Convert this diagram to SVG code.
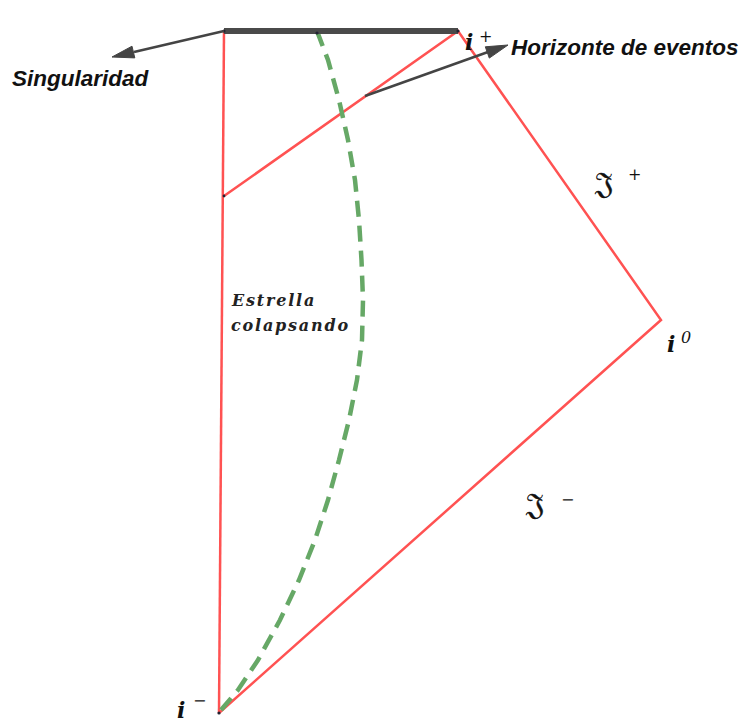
<svg xmlns="http://www.w3.org/2000/svg" width="740" height="724" viewBox="0 0 740 724">
<style>
.red{fill:none;stroke:#ff5252;stroke-width:2.5;stroke-linejoin:miter}
.star{fill:none;stroke:#66a866;stroke-width:4.5;stroke-dasharray:16 9}
.arr{fill:none;stroke:#444;stroke-width:2.5}
.head{fill:#444;stroke:#444;stroke-width:1;stroke-linejoin:round}
.lbl{font-family:"Liberation Sans",Arial,sans-serif;font-weight:bold;font-style:italic;font-size:22.5px;fill:#111}
.math{font-family:"DejaVu Serif","Liberation Serif",serif;font-weight:bold;font-style:italic;font-size:22px;fill:#111}
.sup{font-family:"DejaVu Serif","Liberation Serif",serif;font-style:italic;font-size:16px;fill:#111}
.frak{font-family:"DejaVu Serif","DejaVu Sans","Noto Sans",serif;font-size:30px;fill:#111;stroke:#111;stroke-width:0.4}
.star-t{font-family:"DejaVu Serif","Liberation Serif",serif;font-style:italic;font-weight:bold;font-size:16px;letter-spacing:1.8px;fill:#222}
.dot{fill:#223}
</style>
<g id="diagram">
<path class="red" d="M224,31 L219,713"/>
<path class="red" d="M224,196 L458,31 L661,320 L219,713"/>
<path class="star" d="M317,31 L328,60 L339,100 L348,140 L355,180 L359,220 L361.5,260 L363,300 L362,340 L357,380 L349,420 L339,460 L328,500 L315,540 L299,580 L280,620 L258,660 L238,690 L221,710"/>
<line x1="224" y1="31" x2="458" y2="31" stroke="#4a4a4a" stroke-width="6"/>
<circle class="dot" cx="224" cy="31" r="1.6"/>
<circle class="dot" cx="458" cy="31" r="1.6"/>
<circle class="dot" cx="317" cy="33" r="1.6"/>
<circle class="dot" cx="224" cy="196" r="1.4"/>
<circle class="dot" cx="219" cy="713" r="1.6"/>
</g>
<g id="connectors">
<line class="arr" x1="224" y1="31" x2="134" y2="52"/>
<polygon class="head" points="112,57 134.8,57.9 132,46.2"/>
<line class="arr" x1="365" y1="96" x2="488" y2="52"/>
<polygon class="head" points="508,45 489.3,58.1 485.3,46.8"/>
</g>
<g id="labels">
<text class="lbl" x="12" y="86">Singularidad</text>
<text class="lbl" x="511" y="55">Horizonte de eventos</text>
<text class="math" x="465" y="50">i</text><text class="sup" x="479" y="42">+</text>
<text class="math" x="667" y="352">i</text><text class="sup" x="681" y="343">0</text>
<text class="math" x="177" y="718">i</text><text class="sup" x="193" y="706">−</text>
<text class="frak" x="595" y="193">𝔍</text><text class="sup" x="628" y="180">+</text>
<text class="frak" x="526" y="514">𝔍</text><text class="sup" x="561" y="505">−</text>
<text class="star-t" x="232" y="306">Estrella</text>
<text class="star-t" x="231" y="331">colapsando</text>
</g>
</svg>
